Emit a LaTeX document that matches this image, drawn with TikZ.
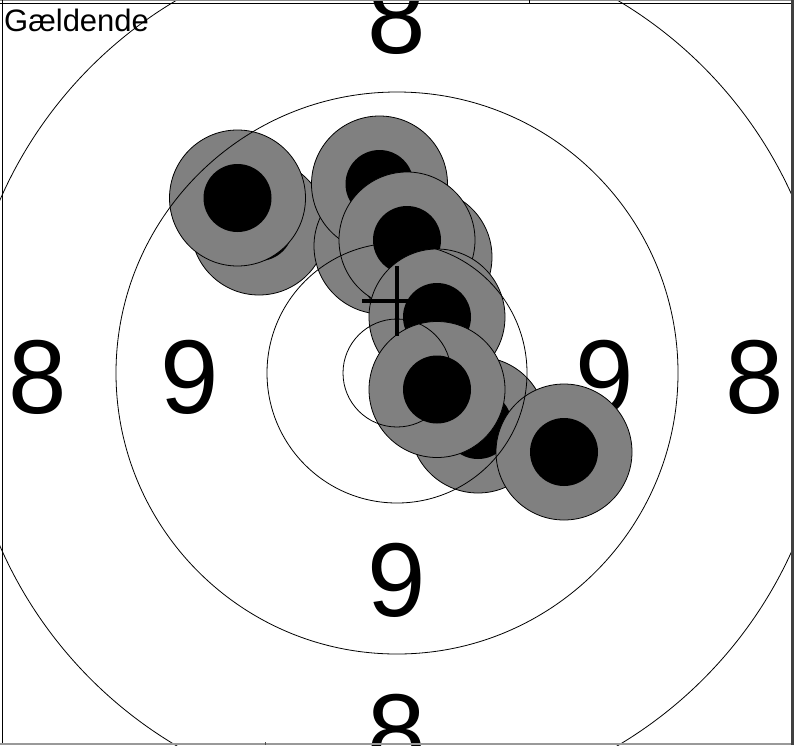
\documentclass[tikz,border=0pt]{standalone}
\usepackage{fontspec}
\setmainfont{Liberation Sans}
\begin{document}
\begin{tikzpicture}[x=1pt,y=-1pt,
  ring/.style={draw=black,line width=0.8pt},
  shotouter/.style={fill=black!50,draw=black,line width=0.8pt},
  shotinner/.style={fill=black},
  bignum/.style={inner sep=0pt,font=\fontsize{105}{105}\selectfont},
  crossline/.style={line width=4pt,black}]
\useasboundingbox (0,0) rectangle (794,745);
\fill[white] (0,0) rectangle (794,745);
% numbers (under the shots)
\node[bignum] (n8t) at (397,17) {8};
\node[bignum] (n8b) at (397,731) {8};
\node[bignum] (n8l) at (38,377) {8};
\node[bignum] (n8r) at (755,377) {8};
\node[bignum] (n9t) at (397,166) {9};
\node[bignum] (n9b) at (397,580) {9};
\node[bignum] (n9l) at (190,377) {9};
\node[bignum] (n9r) at (605,377) {9};
% shots
\foreach \sx/\sy in {259/227, 237.5/198, 382/246, 424/257, 379.5/184, 407/240, 437/317, 478/425, 437/389.5, 564/452}{
  \fill[shotouter] (\sx,\sy) circle (68pt);
  \fill[shotinner] (\sx,\sy) circle (34pt);
}
% rings
\coordinate (c) at (397,373);
\draw[ring] (c) circle (54pt);
\draw[ring] (c) circle (130pt);
\draw[ring] (c) circle (281pt);
\draw[ring] (c) circle (433pt);
% cross
\coordinate (xc) at (397,301);
\draw[crossline] ([xshift=-35pt]xc) -- ([xshift=35pt]xc);
\draw[crossline] ([yshift=35pt]xc) -- ([yshift=-35pt]xc);
% label
\node[anchor=base west,inner sep=0pt,font=\fontsize{31}{31}\selectfont] (lbl) at (4,31.5) {Gældende};
% frame
\draw[black!45,line width=1pt] (0,0.5) -- (794,0.5);
\draw[black,line width=1.2pt] (0,3.2) -- (791,3.2);
\draw[black,line width=1.5pt] (2.5,0) -- (2.5,745);
\fill[black!75] (791,0) rectangle (794,745);
\draw[black!40,line width=1.6pt] (0,744) -- (791,744);
\draw[black,line width=1pt] (529,0) -- (529,3);
\draw[black!70,line width=1pt] (265,742) -- (265,745);
\end{tikzpicture}
\end{document}
